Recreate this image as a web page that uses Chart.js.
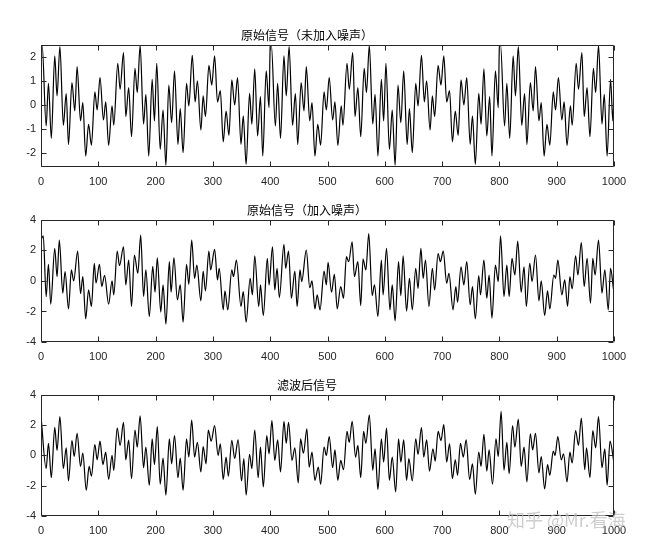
<!DOCTYPE html>
<html>
<head>
<meta charset="utf-8">
<script src="https://cdn.jsdelivr.net/npm/chart.js@4.4.1/dist/chart.umd.min.js"></script>
<style>
  html, body { margin: 0; padding: 0; background: #fff; }
  body { width: 652px; height: 550px; position: relative; overflow: hidden; }
  .panel { position: absolute; left: 0; width: 652px; }
  #mark { position: absolute; left: 507px; top: 506px; font: 18px "Noto Sans CJK SC", sans-serif; color: rgba(190,190,190,0.75); white-space: nowrap; }
</style>
</head>
<body>
<div class="panel" style="top:28px;height:165px"><canvas id="c1"></canvas></div>
<div class="panel" style="top:203px;height:165px"><canvas id="c2"></canvas></div>
<div class="panel" style="top:378px;height:164px"><canvas id="c3"></canvas></div>
<div id="mark">知乎 @Mr.看海</div>
<script>
// sample index, value  (extrema)
const cleanPts = [
  [0,2.45],[2,2.52],[9,-0.88],[13,0.91],[18,-1.4],[24,2.06],[28,0.38],[33,2.45],[39,-0.85],[44,0.48],
  [48,-1.66],[54,0.94],[59,-0.25],[63,1.61],[69,-0.67],[73,0.1],[78,-2.14],[83,-0.81],[88,-1.69],[94,0.55],
  [98,-0.21],[103,1.15],[109,-0.63],[113,0.13],[118,-1.69],[124,-0.04],[127,-0.85],[134,1.75],[138,0.66],[144,2.2],
  [148,-0.49],[153,0.73],[158,-1.33],[164,1.54],[168,0.52],[173,2.5],[179,-0.8],[183,0.45],[188,-2.14],[194,1.08],
  [198,-0.67],[202,1.75],[208,-1.86],[213,-0.21],[218,-2.53],[223,0.83],[228,-0.74],[233,1.43],[239,-1.65],[243,-0.15],
  [248,-2.0],[254,0.91],[258,-0.04],[264,2.08],[269,0.13],[273,1.01],[279,-1.05],[283,0.38],[287,-0.49],[293,1.66],
  [298,0.83],[303,2.06],[308,0.13],[313,0.6],[318,-1.55],[323,-0.26],[328,-1.27],[333,1.05],[338,0.0],[343,1.15],
  [349,-1.65],[353,-0.46],[358,-2.49],[364,0.49],[368,-0.8],[373,1.52],[378,-1.3],[383,0.35],[387,-2.14],[393,1.43],
  [398,-0.11],
  [400,2.45],[402,2.52],[409,-0.88],[413,0.91],[418,-1.4],[424,2.06],[428,0.38],[433,2.45],[439,-0.85],[444,0.48],
  [448,-1.66],[454,0.94],[459,-0.25],[463,1.61],[469,-0.67],[473,0.1],[478,-2.14],[483,-0.81],[488,-1.69],[494,0.55],
  [498,-0.21],[503,1.15],[509,-0.63],[513,0.13],[518,-1.69],[524,-0.04],[527,-0.85],[534,1.75],[538,0.66],[544,2.2],
  [548,-0.49],[553,0.73],[558,-1.33],[564,1.54],[568,0.52],[573,2.5],[579,-0.8],[583,0.45],[588,-2.14],[594,1.08],
  [598,-0.67],[602,1.75],[608,-1.86],[613,-0.21],[618,-2.53],[623,0.83],[628,-0.74],[633,1.43],[639,-1.65],[643,-0.15],
  [648,-2.0],[654,0.91],[658,-0.04],[664,2.08],[669,0.13],[673,1.01],[679,-1.05],[683,0.38],[687,-0.49],[693,1.66],
  [698,0.83],[703,2.06],[708,0.13],[713,0.6],[718,-1.55],[723,-0.26],[728,-1.27],[733,1.05],[738,0.0],[743,1.15],
  [749,-1.65],[753,-0.46],[758,-2.49],[764,0.49],[768,-0.8],[773,1.52],[778,-1.3],[783,0.35],[787,-2.14],[793,1.43],
  [798,-0.11],
  [800,2.45],[802,2.52],[809,-0.88],[813,0.91],[818,-1.4],[824,2.06],[828,0.38],[833,2.45],[839,-0.85],[844,0.48],
  [848,-1.66],[854,0.94],[859,-0.25],[863,1.61],[869,-0.67],[873,0.1],[878,-2.14],[883,-0.81],[888,-1.69],[894,0.55],
  [898,-0.21],[903,1.15],[909,-0.63],[913,0.13],[918,-1.69],[924,-0.04],[927,-0.85],[934,1.75],[938,0.66],[944,2.2],
  [948,-0.49],[953,0.73],[958,-1.33],[964,1.54],[968,0.52],[973,2.5],[979,-0.8],[983,0.45],[988,-2.14],[994,1.08],
  [998,-0.67],[1000,0.45]
];

const noisyPts = [
  [0,2.7],[4,2.95],[9,-1.02],[13,1.09],[17,-1.52],[24,2.13],[28,0.28],[32,2.67],[38,-0.8],[42,0.61],
  [48,-1.83],[53,0.72],[57,0],[64,1.96],[69,-0.83],[73,0.28],[78,-2.48],[83,-0.59],[88,-1.67],[93,1.15],
  [96,-0.15],[102,1.09],[106,-0.37],[111,0.37],[118,-1.52],[124,0],[127,-0.91],[133,1.96],[137,1.0],[144,2.24],
  [148,-0.26],[153,1.37],[158,-1.67],[163,1.7],[169,0.5],[174,3.0],[179,-1.02],[183,0.72],[189,-2.33],[195,0.96],
  [199,-0.74],[203,1.52],[209,-2.04],[213,-0.26],[218,-2.83],[224,1.26],[227,-0.74],[232,1.52],[238,-1.24],[243,-0.26],
  [248,-2.7],[254,1.09],[258,-0.22],[263,2.67],[268,0.17],[272,1.04],[279,-1.3],[283,0.65],[287,-0.65],[293,1.96],
  [296,0.72],[303,2.07],[308,0.07],[311,0.83],[318,-1.89],[321,-0.65],[326,-1.89],[333,0.72],[336,0.28],[341,1.37],
  [349,-1.67],[353,-0.7],[358,-2.7],[365,0.17],[369,-0.91],[373,1.65],[380,-1.67],[383,-0.26],[388,-2.26],[395,1.48],
  [398,-0.26],[404,2.24],[408,-0.59],[412,0.83],[416,-1.09],[424,2.39],[427,0.83],[432,1.96],[437,-1.13],[443,0.65],
  [447,-1.67],[452,0.72],[455,-0.04],[463,2.02],[469,-0.44],[473,0],[478,-1.83],[482,-0.91],[487,-1.89],[494,0.65],
  [498,-0.26],[501,1.22],[507,-0.74],[512,0.43],[517,-1.83],[523,-0.37],[528,-1.13],[533,1.59],[537,1.26],[543,2.57],
  [547,0.28],[553,1.26],[558,-1.61],[562,1.43],[567,0.72],[572,3.11],[578,-0.96],[582,-0.26],[588,-2.33],[594,1.37],
  [597,-0.91],[603,2.13],[609,-1.89],[613,-0.26],[618,-2.61],[624,1.26],[628,-0.96],[632,1.65],[638,-1.98],[643,0.17],
  [648,-1.89],[654,0.83],[658,-0.48],[663,2.13],[667,0.17],[671,1.37],[677,-1.67],[683,0.83],[687,-0.59],[693,1.8],
  [697,1.26],[702,1.96],[708,-0.15],[712,0.5],[719,-1.89],[724,-0.37],[727,-1.39],[733,0.93],[738,-0.26],[743,1.26],
  [749,-1.57],[753,-0.37],[758,-2.48],[764,0.35],[767,-0.91],[773,1.37],[778,-1.13],[782,0.39],[787,-2.43],[793,1.04],
  [798,-0.04],[802,2.96],[808,-1.02],[813,1.04],[817,-1.02],[822,1.48],[827,0.39],[832,2.61],[838,-0.74],[843,0.93],
  [847,-1.67],[853,1.15],[857,-0.04],[863,1.7],[869,-1.3],[873,0],[879,-2.26],[884,-0.65],[888,-1.83],[895,0.39],
  [898,0.17],[902,1.37],[909,-0.91],[914,0.07],[919,-1.67],[923,0.28],[927,-0.52],[933,1.65],[937,0.39],[943,2.52],
  [948,-0.37],[953,1.48],[959,-1.46],[963,1.48],[967,0.39],[973,2.67],[979,-0.8],[984,0.72],[990,-1.89],[994,0.83],
  [999,-0.52]
];

const filteredPts = [
  [0,2.62],[9,-0.87],[13,0.8],[18,-1.47],[24,1.86],[28,0.33],[33,2.56],[39,-0.87],[44,0.5],[48,-1.68],
  [54,0.98],[58,-0.07],[63,1.46],[69,-0.72],[73,0.15],[79,-2.3],[84,-0.72],[88,-1.37],[94,0.72],[98,-0.29],
  [103,0.94],[108,-0.6],[113,0.22],[118,-1.59],[124,0],[127,-0.98],[133,1.81],[138,0.66],[144,2.18],[148,-0.29],
  [153,1.02],[158,-1.53],[164,1.68],[168,0.55],[173,2.62],[179,-0.81],[183,0.55],[189,-1.97],[194,1.09],[198,-0.6],
  [203,1.9],[208,-1.9],[213,-0.18],[218,-2.62],[224,1.09],[228,-0.55],[233,1.31],[239,-1.47],[243,-0.18],[248,-2.3],
  [254,1.09],[258,-0.11],[263,2.34],[268,-0.11],[273,0.87],[279,-1.09],[283,0.59],[288,-0.55],[292,1.68],[297,0.94],
  [303,1.97],[309,0],[313,0.77],[318,-1.59],[323,-0.11],[327,-1.37],[333,1.0],[338,-0.2],[344,1.03],[350,-1.68],
  [354,-0.2],[358,-2.62],[364,0.07],[368,-0.87],[373,1.68],[379,-1.47],[383,0.55],[388,-2.08],[394,1.31],[398,0.11],
  [403,2.3],[408,-0.33],[413,1.03],[418,-1.09],[424,2.25],[428,0.8],[432,2.18],[438,-0.33],[443,0.5],[449,-1.81],
  [453,1.09],[458,0.15],[464,1.75],[468,-0.77],[473,0.22],[478,-1.64],[484,-0.77],[488,-1.9],[494,0.55],[498,0],
  [503,1.24],[509,-0.81],[513,0.37],[518,-1.64],[523,-0.33],[528,-0.94],[534,1.59],[538,0.87],[543,2.25],[549,-0.11],
  [553,0.66],[558,-1.47],[563,1.59],[567,0.8],[573,2.69],[579,-0.98],[583,0.44],[588,-2.25],[594,1.09],[598,-0.44],
  [603,1.81],[608,-1.64],[613,-0.11],[619,-2.4],[624,1.09],[628,-0.44],[633,1.03],[638,-1.64],[642,-0.2],[648,-1.68],
  [654,1.09],[658,0.07],[664,1.85],[668,-0.11],[673,1.03],[678,-1.03],[684,0.44],[688,-0.37],[693,1.59],[698,0.98],
  [703,2.03],[708,-0.44],[713,0.77],[718,-1.53],[723,-0.29],[727,-1.31],[732,0.8],[737,-0.11],[742,1.03],[748,-1.59],
  [753,-0.55],[758,-2.56],[764,0.22],[768,-0.72],[773,1.4],[778,-1.03],[782,0.37],[788,-1.9],[794,1.09],[798,-0.07],
  [803,2.91],[808,-0.98],[813,0.87],[817,-1.2],[823,1.97],[827,0.55],[833,2.4],[838,-0.72],[843,0.55],[848,-1.75],
  [854,1.42],[858,0.37],[863,1.46],[869,-1.16],[873,-0.07],[879,-2.21],[884,-0.6],[888,-1.31],[894,0.29],[897,0],
  [902,1.24],[908,-0.29],[912,0.11],[918,-1.75],[923,0.22],[927,-0.5],[933,1.64],[938,0.66],[943,2.47],[949,-0.94],
  [952,0.5],[958,-1.47],[963,1.64],[968,0.5],[973,2.56],[979,-0.81],[984,0.44],[988,-1.97],[993,0.94],[1000,-0.5]
];

const xTicks = [0, 100, 200, 300, 400, 500, 600, 700, 800, 900, 1000];
const yTicksClean = [-2, -1, 0, 1, 2];
const yTicksWide = [-4, -2, 0, 2, 4];
const titles = ['原始信号（未加入噪声）', '原始信号（加入噪声）', '滤波后信号'];

const AXIS = '#262626';

// MATLAB style box with inward ticks on all four sides
const boxPlugin = {
  id: 'box',
  afterDatasetsDraw(chart) {
    const { ctx, chartArea: a, scales: { x, y } } = chart;
    const L = Math.round(a.left) + 0.5, R = Math.round(a.right) - 0.5;
    const T = Math.round(a.top) + 0.5, B = Math.round(a.bottom) - 0.5;
    ctx.save();
    ctx.strokeStyle = AXIS;
    ctx.lineWidth = 1;
    ctx.beginPath();
    ctx.rect(L, T, R - L, B - T);
    x.ticks.forEach(t => {
      const px = Math.round(x.getPixelForValue(t.value)) + 0.5;
      ctx.moveTo(px, B); ctx.lineTo(px, B - 5);
      ctx.moveTo(px, T); ctx.lineTo(px, T + 5);
    });
    y.ticks.forEach(t => {
      const py = Math.round(y.getPixelForValue(t.value)) + 0.5;
      ctx.moveTo(L, py); ctx.lineTo(L + 5, py);
      ctx.moveTo(R, py); ctx.lineTo(R - 5, py);
    });
    ctx.stroke();
    ctx.restore();
  }
};

function makePanel(id, title, pts, yMin, yMax, yTicks) {
  return new Chart(document.getElementById(id), {
    type: 'line',
    data: {
      datasets: [{
        data: pts.map(p => ({ x: p[0], y: p[1] })),
        borderColor: '#000',
        borderWidth: 1.2,
        pointRadius: 0,
        cubicInterpolationMode: 'monotone',
        fill: false
      }]
    },
    options: {
      responsive: true,
      maintainAspectRatio: false,
      animation: false,
      layout: { padding: { left: 0, right: 38, top: 0, bottom: 0 } },
      plugins: {
        legend: { display: false },
        tooltip: { enabled: false },
        title: {
          display: true,
          text: title,
          color: '#000',
          font: { family: '"Noto Sans CJK SC"', size: 12, weight: 'normal', lineHeight: 1.2 },
          padding: { top: 0, bottom: 2.5 }
        }
      },
      scales: {
        x: {
          type: 'linear',
          min: 0,
          max: 1000,
          grid: { display: false, drawTicks: false },
          border: { display: false },
          afterBuildTicks: s => { s.ticks = xTicks.map(v => ({ value: v })); },
          afterFit: s => { s.height = 26; },
          ticks: {
            autoSkip: false,
            maxRotation: 0,
            padding: 8,
            color: AXIS,
            font: { family: '"Liberation Sans", Arial', size: 11 },
            callback: v => String(v)
          }
        },
        y: {
          min: yMin,
          max: yMax,
          grid: { display: false, drawTicks: false },
          border: { display: false },
          afterBuildTicks: s => { s.ticks = yTicks.map(v => ({ value: v })); },
          afterFit: s => { s.width = 41; },
          ticks: {
            padding: 5,
            color: AXIS,
            font: { family: '"Liberation Sans", Arial', size: 11 },
            callback: v => String(v)
          }
        }
      }
    },
    plugins: [boxPlugin]
  });
}

makePanel('c1', titles[0], cleanPts, -2.6, 2.52, yTicksClean);
makePanel('c2', titles[1], noisyPts, -4, 4, yTicksWide);
makePanel('c3', titles[2], filteredPts, -4, 4, yTicksWide);
</script>
</body>
</html>
